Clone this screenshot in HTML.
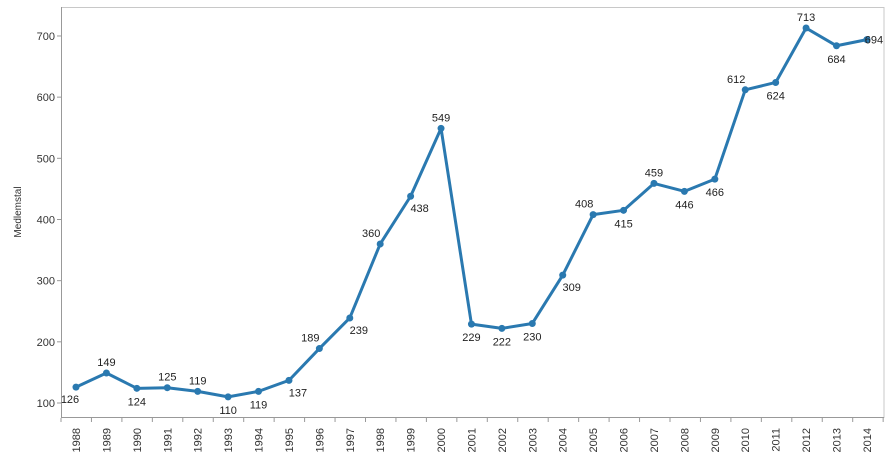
<!DOCTYPE html>
<html><head><meta charset="utf-8"><style>
body{margin:0;background:#fff;width:895px;height:462px;overflow:hidden}
svg{font-family:"Liberation Sans",Arial,sans-serif}
</style></head><body>
<svg id="c" width="895" height="462" xmlns="http://www.w3.org/2000/svg"></svg>
<script>
const s=document.getElementById('c');
const vals=[126,149,124,125,119,110,119,137,189,239,360,438,549,229,222,230,309,408,415,459,446,466,612,624,713,684,694];
const pos=['bl','a','b','a','a','b','b','br','al','br','al','br','a','b','b','b','br','al','b','a','b','b','al','b','a','b','r'];
const X=i=>76+i*30.42, Y=v=>403-(v-100)*0.6117;
let h='';
h+='<rect x="61.5" y="7.5" width="822.5" height="410" fill="none" stroke="#c8c8c8"/>';
h+='<line x1="61.5" y1="7" x2="61.5" y2="418" stroke="#999"/>';
h+='<line x1="61" y1="417.5" x2="884" y2="417.5" stroke="#999"/>';
for(let v=100;v<=700;v+=100){const y=Y(v);h+=`<line x1="57" y1="${y}" x2="61" y2="${y}" stroke="#999"/><text x="55" y="${y+4}" font-size="11" fill="#333" text-anchor="end">${v}</text>`;}
for(let i=0;i<=27;i++){const x=61+i*30.45;h+=`<line x1="${x}" y1="418" x2="${x}" y2="422" stroke="#999"/>`;}
for(let i=0;i<27;i++){const x=X(i)+4;h+=`<text transform="translate(${x},428) rotate(-90)" font-size="11" fill="#333" text-anchor="end">${1988+i}</text>`;}
h+=`<text transform="translate(21,212) rotate(-90)" font-size="10" fill="#333" text-anchor="middle">Medlemstal</text>`;
let p=vals.map((v,i)=>X(i)+','+Y(v)).join(' ');
h+=`<polyline points="${p}" fill="none" stroke="#2a79b0" stroke-width="3" stroke-linejoin="round"/>`;
vals.forEach((v,i)=>{const x=X(i),y=Y(v);h+=`<circle cx="${x}" cy="${y}" r="3.5" fill="#2a79b0"/>`;
let lx=x,ly=y,ps=pos[i];
if(ps==='a'){ly=y-7}else if(ps==='b'){ly=y+17}else if(ps==='al'){lx=x-9;ly=y-7}else if(ps==='br'){lx=x+9;ly=y+16}else if(ps==='bl'){lx=x-6;ly=y+16}else{lx=x+7;ly=y+4}
h+=`<text x="${lx}" y="${ly}" font-size="11" fill="#222" text-anchor="middle">${v}</text>`;});
s.innerHTML=h;
</script>
</body></html>
